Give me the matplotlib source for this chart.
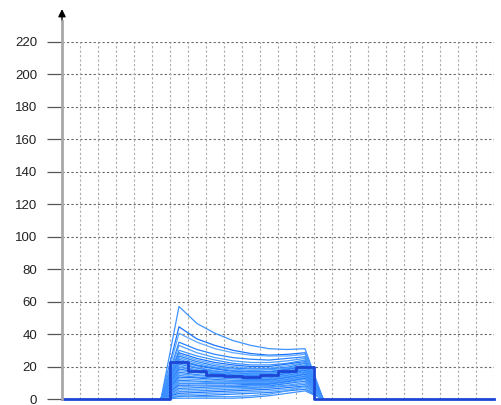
import matplotlib
matplotlib.use('Agg')
import matplotlib.pyplot as plt
import numpy as np

# hourly profile (step line), hours 0..23
hours = list(range(24))
profile = [0, 0, 0, 0, 0, 0, 23, 17.5, 15, 14, 13.5, 15, 17, 20,
           0, 0, 0, 0, 0, 0, 0, 0, 0, 0]

# individual curves, sampled at half hours 5.5 .. 14.5
curve_x = [5.5, 6.5, 7.5, 8.5, 9.5, 10.5, 11.5, 12.5, 13.5, 14.5]
curves = [
    [0, 57, 46.5, 40.5, 36, 33, 31, 30.5, 31, 0],
    [0, 44.5, 37, 33, 30, 28, 27, 27.5, 28.5, 0],
    [0, 40.5, 35, 31, 28.5, 27, 26.5, 26.5, 27.5, 0],
    [0, 35, 30.5, 27.5, 25.5, 24.5, 24, 25, 26, 0],
    [0, 33, 28.5, 25.5, 23.5, 22.5, 22.5, 23.5, 25, 0],
    [0, 30, 26.5, 24, 22, 21, 21, 22, 24, 0],
    [0, 28.5, 25, 22.5, 21, 20, 20, 21.5, 23, 0],
    [0, 27.5, 24, 21.5, 20, 19, 19, 20.5, 22.5, 0],
    [0, 26.5, 23, 20.5, 19, 18.5, 18.5, 19.5, 22, 0],
    [0, 25.5, 22, 19.5, 18.5, 17.5, 18, 19, 21, 0],
    [0, 24.5, 21, 19, 17.5, 17, 17, 18.5, 20.5, 0],
    [0, 23.5, 20.5, 18.5, 17, 16.5, 16.5, 18, 20, 0],
    [0, 22.5, 19.5, 17.5, 16.5, 16, 16, 17.5, 19.5, 0],
    [0, 21.5, 19, 17, 16, 15.5, 15.5, 17, 19, 0],
    [0, 20.5, 18, 16.5, 15.5, 15, 15, 16.5, 18.5, 0],
    [0, 19.5, 17.5, 16, 15, 14.5, 14.5, 16, 18, 0],
    [0, 18.5, 16.5, 15.5, 14.5, 14, 14, 15.5, 17.5, 0],
    [0, 17.5, 16, 15, 14, 13.5, 13.5, 15, 17, 0],
    [0, 16.5, 15, 14, 13.5, 13, 13, 14.5, 16.5, 0],
    [0, 15.5, 14.5, 13.5, 13, 12.5, 12.5, 14, 16, 0],
    [0, 14.5, 13.5, 13, 12.5, 12, 12, 13.5, 15.5, 0],
    [0, 13.5, 13, 12, 11.5, 11.5, 11.5, 13, 15, 0],
    [0, 12.5, 12, 11.5, 11, 11, 11, 12.5, 14.5, 0],
    [0, 11.5, 11, 10.5, 10.5, 10.5, 10.5, 12, 14, 0],
    [0, 10.5, 10.5, 10, 10, 10, 10, 11.5, 13.5, 0],
    [0, 9.5, 9.5, 9.5, 9.5, 9.5, 9.5, 11, 13, 0],
    [0, 8.5, 8.5, 8.5, 8.5, 9, 9, 10.5, 12.5, 0],
    [0, 7.5, 8, 8, 8, 8.5, 8.5, 10, 12, 0],
    [0, 6.5, 7, 7.5, 7.5, 8, 8, 9.5, 11, 0],
    [0, 5.5, 6, 6.5, 7, 7, 7.5, 8.5, 10, 0],
    [0, 4.5, 5, 5.5, 6, 6.5, 7, 8, 9, 0],
    [0, 3.5, 4, 4.5, 5, 5.5, 6, 7, 8, 0],
    [0, 2.5, 3, 3.5, 4, 4.5, 5, 6, 7, 0],
    [0, 1.5, 2, 2.5, 3, 3.5, 4, 5, 6, 0],
    [0, 2, 1.5, 1.5, 1.5, 2, 3, 5, 8, 0],
    [0, 0.5, 0.5, 0.5, 0.5, 1, 2, 3.5, 5, 0],
]
line_colors = ['#3d93ff', '#1a74ff', '#62aaff', '#2a84ff', '#4f9fff']

y_ticks = list(range(0, 221, 20))

fig = plt.figure(figsize=(5.01, 4.05), dpi=100)
ax = fig.add_axes([62 / 501, 6 / 405, 432 / 501, 357 / 405])

for i, c in enumerate(curves):
    ax.plot(curve_x, c, color=line_colors[i % len(line_colors)],
            lw=0.9, zorder=3, clip_on=False)

ax.step(hours + [24], profile + [profile[-1]], where='post',
        color='#1c46d6', lw=2.0, zorder=5, clip_on=False)

ax.set_xlim(0, 24)
ax.set_ylim(0, 220)
ax.set_yticks(y_ticks)
ax.set_xticks([])

# grid: darker horizontal, lighter vertical
for y in y_ticks[1:]:
    ax.axhline(y, color='#666666', lw=0.8, ls=(0, (2, 2)), zorder=1)
for x in range(1, 25):
    ax.axvline(x, color='#aaaaaa', lw=0.8, ls=(0, (2, 2)), zorder=1)

for side in ['top', 'right', 'bottom', 'left']:
    ax.spines[side].set_visible(False)

# y axis with arrow head
ax.plot([0, 0], [0, 1.06], transform=ax.transAxes, color='#a8a8a8',
        lw=2, clip_on=False, zorder=6)
ax.annotate('', xy=(0, 1.10), xytext=(0, 1.05), xycoords='axes fraction',
            arrowprops=dict(arrowstyle='-|>', color='black', lw=1,
                            mutation_scale=11), annotation_clip=False)

ax.tick_params(axis='y', length=11, width=0.9, color='#555555', pad=7,
               labelsize=9.5, labelcolor='#222222')
for lab in ax.get_yticklabels():
    lab.set_family(['Liberation Sans', 'DejaVu Sans'])

fig.savefig('out.png', dpi=100)
